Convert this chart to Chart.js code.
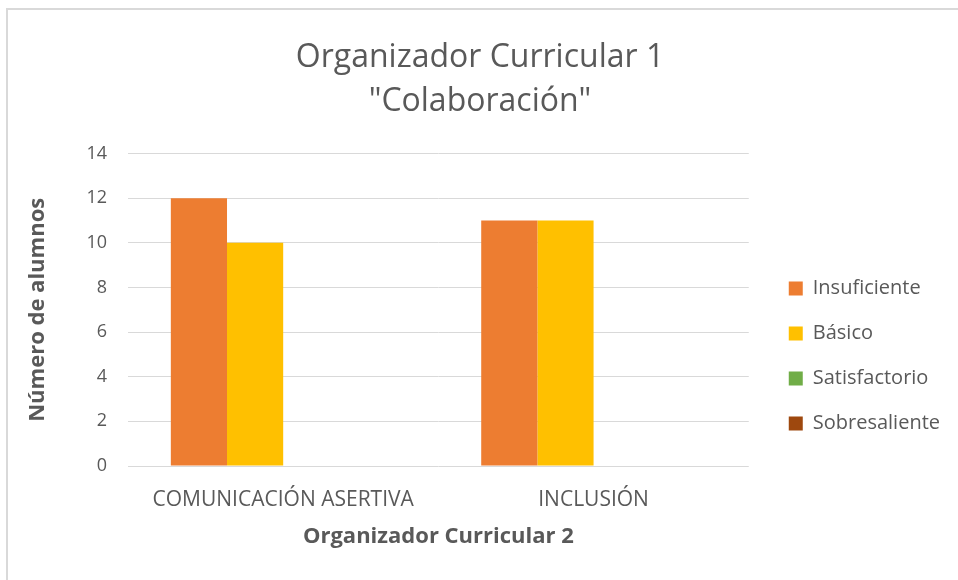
<!DOCTYPE html>
<html>
<head>
<meta charset="utf-8">
<script src="https://cdn.jsdelivr.net/npm/chart.js@4"></script>
<style>
  html, body { margin: 0; padding: 0; background: #fff; overflow: hidden; }
  #wrap { position: relative; width: 958px; height: 580px; overflow: hidden; }
  #frame { position: absolute; left: 6px; top: 8px; width: 1200px; height: 800px;
           border-top: 2px solid #d9d9d9; border-left: 2px solid #d9d9d9; box-sizing: border-box; }
  canvas { position: absolute; left: 0; top: 0; }
</style>
</head>
<body>
<div id="wrap">
  <div id="frame"></div>
  <canvas id="c" width="958" height="580"></canvas>
</div>
<script>
const categories = ["COMUNICACIÓN ASERTIVA", "INCLUSIÓN"];
const seriesNames = ["Insuficiente", "Básico", "Satisfactorio", "Sobresaliente"];
const insuficiente = [12, 11];
const basico = [10, 11];
const satisfactorio = [0, 0];
const sobresaliente = [0, 0];
const yTicks = [0, 2, 4, 6, 8, 10, 12, 14];
const colors = ["#ED7D31", "#FFC000", "#70AD47", "#9E480E"];

const FONT = "'Open Sans', 'Noto Sans', sans-serif";
const TXT = "#595959";

const values = [insuficiente, basico, satisfactorio, sobresaliente];

new Chart(document.getElementById('c'), {
  type: 'bar',
  data: {
    labels: categories,
    datasets: seriesNames.map((n, i) => ({
      label: n,
      data: values[i],
      backgroundColor: colors[i],
      borderWidth: 0,
      categoryPercentage: 0.724,
      barPercentage: 1.0
    }))
  },
  options: {
    responsive: false,
    animation: false,
    devicePixelRatio: 1,
    layout: { padding: { left: 10, right: 8, top: 0, bottom: 10 } },
    plugins: {
      tooltip: { enabled: false },
      title: {
        display: true,
        text: ['Organizador Curricular 1', '"Colaboración"'],
        color: TXT,
        font: { family: FONT, size: 32, weight: 'normal', lineHeight: 1.4 },
        padding: { top: 35, bottom: 29 }
      },
      legend: {
        position: 'right',
        align: 'center',
        maxWidth: 260,
        title: { display: true, text: ' ', font: { size: 10 }, padding: { top: 64, bottom: 66 } },
        labels: {
          color: TXT,
          font: { family: FONT, size: 20 },
          boxWidth: 14,
          boxHeight: 14,
          padding: 25
        }
      }
    },
    scales: {
      x: {
        grid: { display: false },
        border: { display: false },
        ticks: { color: TXT, font: { family: FONT, size: 21 }, padding: 13, maxRotation: 0 },
        title: {
          display: true, text: 'Organizador Curricular 2', color: TXT,
          font: { family: FONT, size: 22, weight: 'bold', lineHeight: 1.2 },
          padding: { top: 0, bottom: 20 }
        },
        afterFit: s => { s.height = 104; }
      },
      y: {
        min: 0, max: 14,
        afterBuildTicks: s => { s.ticks = yTicks.map(v => ({ value: v })); },
        grid: { color: '#d9d9d9', lineWidth: 1, drawTicks: false },
        border: { display: false },
        ticks: { color: TXT, font: { family: FONT, size: 18 }, padding: 21 },
        title: {
          display: true, text: 'Número de alumnos', color: TXT,
          font: { family: FONT, size: 22, weight: 'bold', lineHeight: 1.2 },
          padding: { top: 15, bottom: 0 }
        },
        afterFit: s => { s.width = 118; }
      },
      gap: {
        position: 'right',
        display: true,
        grid: { display: false },
        border: { display: false },
        ticks: { display: false },
        afterFit: s => { s.width = 15; }
      }
    }
  }
});
</script>
</body>
</html>
